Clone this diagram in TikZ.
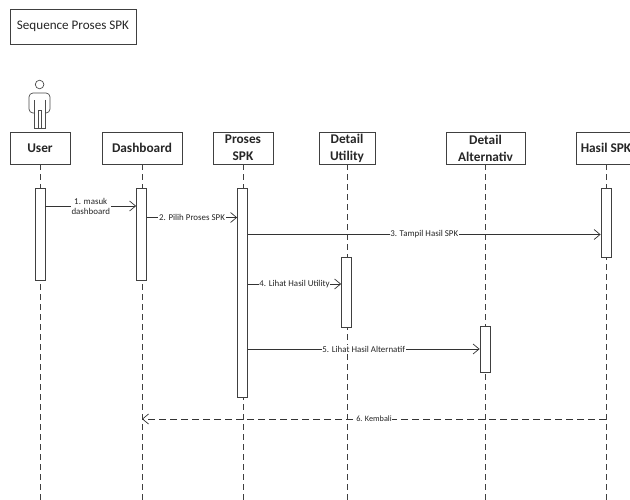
\documentclass[tikz,border=0pt]{standalone}
\usepackage{fontspec}
\setmainfont{Carlito}
\usetikzlibrary{arrows.meta}
\begin{document}
\begin{tikzpicture}[x=1pt,y=-1pt,
  every node/.style={text=black!85},
  obj/.style={draw=black!75,line width=0.8pt,fill=white,minimum height=32pt,inner sep=0pt,align=center,font=\fontsize{13.3}{17}\selectfont\bfseries},
  life/.style={draw=black!75,line width=0.8pt,dash pattern=on 6pt off 4pt},
  bar/.style={draw=black!75,line width=0.8pt,fill=white,minimum width=10pt,inner sep=0pt},
  msg/.style={draw=black!80,line width=0.7pt,-{Straight Barb[length=6pt,width=10pt,line width=0.7pt]}},
  ret/.style={msg,dash pattern=on 7pt off 4pt},
  lbl/.style={fill=white,inner sep=0.6pt,font=\fontsize{8.9}{10.8}\selectfont,align=center}]
\useasboundingbox (0,0) rectangle (630,500);
\fill[white] (0,0) rectangle (630,500);
% title
\node[draw=black!75,line width=0.8pt,minimum width=126pt,minimum height=35pt,font=\fontsize{13.1}{15}\selectfont] (title) at (73,26.5) {Sequence Proses SPK};
% actor
\begin{scope}[draw=black!70,line width=0.7pt]
\draw (39.6,84.5) circle (4.3);
\draw[rounded corners=4pt] (34,113) -- (29,113) -- (29,93) -- (50,93) -- (50,113) -- (45,113);
\draw (45,100) -- (45,128) -- (34,128) -- (34,100);
\draw (38.2,128) -- (38.2,110) -- (41,110) -- (41,128);
\end{scope}
% objects
\node[obj,minimum width=60pt] (user) at (40,148) {User};
\node[obj,minimum width=80pt] (dash) at (142,148) {Dashboard};
\node[obj,minimum width=60pt] (proc) at (243,148) {Proses\\SPK};
\node[obj,minimum width=56pt] (util) at (347,148) {Detail\\Utility};
\node[obj,minimum width=79pt] (alt) at (485.5,148) {Detail\\Alternativ};
\node[obj,minimum width=60pt] (hasil) at (606,148) {Hasil SPK};
% lifeline ends
\foreach \n in {user,dash,proc,util,alt,hasil}{
  \coordinate (\n-end) at (\n.south |- {0,500});
  \draw[life] (\n.south) -- (\n-end);
}
% activation bars
\node[bar,minimum height=92pt] (ub) at (40,234) {};
\node[bar,minimum height=92pt] (db) at (141.5,234) {};
\node[bar,minimum height=209pt] (pb) at (242.5,292.5) {};
\node[bar,minimum height=70pt] (tb) at (346.5,292) {};
\node[bar,minimum height=46pt] (ab) at (485,349) {};
\node[bar,minimum height=69pt] (hb) at (606,222.5) {};
% message levels
\coordinate (y1) at (0,206);
\coordinate (y2) at (0,217.5);
\coordinate (y3) at (0,234.5);
\coordinate (y4) at (0,284);
\coordinate (y5) at (0,349);
\coordinate (y6) at (0,419);
\draw[msg] (ub.east |- y1) -- node[lbl,yshift=-0.5pt] {1. masuk\\dashboard} (db.west |- y1);
\draw[msg] (db.east |- y2) -- node[lbl] {2. Pilih Proses SPK} (pb.west |- y2);
\draw[msg] (pb.east |- y3) -- node[lbl] {3. Tampil Hasil SPK} (hb.west |- y3);
\draw[msg] (pb.east |- y4) -- node[lbl] {4. Lihat Hasil Utility} (tb.west |- y4);
\draw[msg] (pb.east |- y5) -- node[lbl] {5. Lihat Hasil Alternatif} (ab.west |- y5);
\draw[ret] (hasil.south |- y6) -- node[lbl,font=\fontsize{8.2}{10}\selectfont] {6. Kembali} (dash.south |- y6);
\end{tikzpicture}
\end{document}
